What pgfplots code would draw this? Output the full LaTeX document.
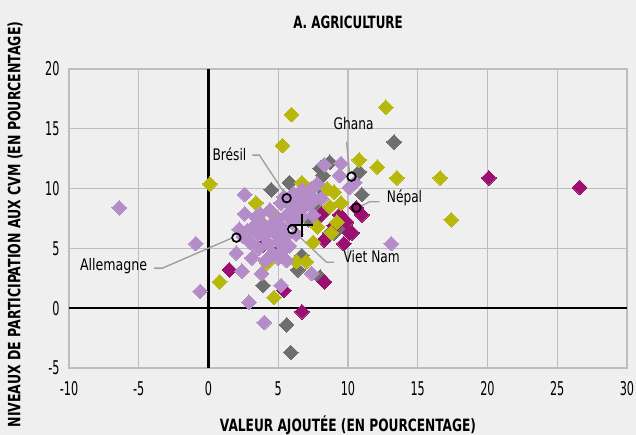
\documentclass[border=0pt]{standalone}
\usepackage{pgfplots}
\pgfplotsset{compat=1.18}
\usepackage{fontspec}
\setmainfont{DejaVu Sans Condensed}
\definecolor{bg}{HTML}{EFEFEF}
\definecolor{gridc}{HTML}{BDBDBD}
\definecolor{cgray}{HTML}{6E6E6E}
\definecolor{colive}{HTML}{B8B80C}
\definecolor{cmag}{HTML}{9A0F70}
\definecolor{cpur}{HTML}{B48CC8}
\definecolor{callout}{HTML}{9C9C9C}
\newcommand{\tk}[1]{\scalebox{0.66}[1]{#1}}
\begin{document}
\begin{tikzpicture}
\path[fill=bg] (0,0) rectangle (636bp,435bp);
\useasboundingbox (0,0) rectangle (636bp,435bp);
\begin{axis}[
  scale only axis, width=558bp, height=299bp,
  at={(69bp,67bp)}, anchor=south west,
  xmin=-10, xmax=30, ymin=-5, ymax=20,
  xtick={-10,-5,...,30}, ytick={-5,0,...,20},
  xticklabels={\tk{-10},\tk{-5},\tk{0},\tk{5},\tk{10},\tk{15},\tk{20},\tk{25},\tk{30}},
  yticklabels={\tk{-5},\tk{0},\tk{5},\tk{10},\tk{15},\tk{20}},
  every tick label/.style={font=\fontsize{19}{19}\selectfont},
  grid=major, major grid style={color=gridc, line width=1.2bp},
  axis line style={color=gridc, line width=1.2bp},
  major tick length=0pt,
  xticklabel style={yshift=-10bp},
  yticklabel style={xshift=-6bp},
  axis background/.style={fill=bg},
  clip=false,
  dia/.style={only marks, mark=square*, mark size=5.2bp, color=#1, mark options={rotate=45, solid, fill=#1, draw=#1, line width=0pt}},
]
\draw[black, line width=2.2bp] (axis cs:0,-5) -- (axis cs:0,20);
\draw[black, line width=2.2bp] (axis cs:-10,0) -- (axis cs:30,0);
% gray
\addplot[dia=cgray] coordinates {
(13.3,13.9) (5.8,10.5) (4.5,9.9) (8.7,12.2) (10.8,11.4) (11.0,9.5) (8.0,11.7) (8.1,10.0)
(8.2,7.9) (8.7,6.3) (9.4,6.8) (8.2,11.1) (3.9,1.9) (5.6,-1.4) (5.9,-3.7) (6.4,3.2)
(6.7,4.4) (8.0,2.6) (9.0,6.3) (7.6,8.6) (7.2,7.4) (7.8,7.5)
};
% magenta
\addplot[dia=cmag] coordinates {
(20.1,10.9) (26.6,10.1) (11.0,7.8) (9.9,7.2) (10.1,6.3) (9.7,5.4) (8.3,5.7) (10.6,8.4)
(1.5,3.2) (8.3,2.2) (6.7,-0.3) (5.4,1.5) (10.3,6.3) (9.4,7.8) (9.0,6.9) (3.9,5.3)
(4.9,4.7) (8.1,7.9)
};
% olive
\addplot[dia=colive] coordinates {
(0.1,10.4) (5.95,16.2) (12.7,16.8) (5.3,13.6) (10.8,12.4) (12.1,11.8) (13.5,10.9) (16.6,10.9)
(17.4,7.4) (0.8,2.2) (4.7,0.9) (3.4,8.8) (6.7,10.5) (8.5,10.0) (9.0,9.7) (9.5,8.8)
(4.6,7.9) (8.7,8.5) (9.2,7.2) (7.8,6.8) (6.3,8.5) (4.2,3.8) (7.0,3.9) (6.3,3.9)
(7.5,5.5) (8.8,6.3) (6.5,7.5)
};
% light purple
\addplot[dia=cpur] coordinates {
(-6.4,8.4) (-0.9,5.4) (-0.6,1.4) (2.0,4.6) (2.4,3.1) (3.8,2.9) (2.9,0.5) (4.0,-1.2)
(5.2,1.9) (7.4,2.9) (13.1,5.4) (2.6,9.5) (8.3,12.0) (9.5,12.1) (2.6,7.9) (3.7,7.9)
(10.1,10.1) (9.4,11.1) (10.5,10.5) (7.5,7.8)
(2.5,6.0) (2.8,6.5) (3.0,5.5) (3.2,6.8) (3.5,6.2) (3.6,5.0) (3.8,7.2) (4.0,6.0)
(4.2,6.6) (4.3,5.4) (4.5,7.0) (4.6,4.6) (4.8,6.2) (5.0,7.5) (5.0,5.6) (5.2,6.8)
(5.3,4.8) (5.5,6.0) (5.6,7.8) (5.8,5.2) (5.9,8.6) (6.0,7.2) (6.2,8.0) (6.3,6.2)
(6.5,9.0) (6.6,7.6) (6.8,8.4) (7.0,9.5) (7.2,8.8) (7.4,10.0) (7.6,9.2) (7.8,10.4)
(3.1,4.2) (4.1,4.0) (5.0,4.2) (5.6,4.0) (2.2,6.6) (3.4,7.6) (4.4,8.2) (5.2,8.8)
(6.1,9.6) (5.4,9.3) (6.7,9.9) (7.5,9.0) (8.1,9.2)
};
% callouts
\draw[callout, line width=1.3bp] (axis cs:3.15,12.8) -- (axis cs:3.65,12.8) -- (axis cs:5.45,9.6);
\draw[callout, line width=1.3bp] (axis cs:9.9,13.9) -- (axis cs:10.1,11.4);
\draw[callout, line width=1.3bp] (axis cs:12.25,8.9) -- (axis cs:11.55,8.9) -- (axis cs:10.8,8.45);
\draw[callout, line width=1.3bp] (axis cs:9.0,3.85) -- (axis cs:8.45,3.85) -- (axis cs:6.5,6.0);
\draw[callout, line width=1.3bp] (axis cs:-3.9,3.35) -- (axis cs:-3.3,3.35) -- (axis cs:1.65,5.85);
% highlighted countries
\addplot[only marks, mark=o, mark size=4.3bp, mark options={black, solid, line width=1.7bp}] coordinates {
(5.6,9.2) (10.25,11.0) (10.6,8.4) (6.0,6.6) (2.0,5.9)
};
\addplot[only marks, mark=+, mark size=11.5bp, mark options={black, solid, line width=2bp}] coordinates {(6.7,6.95)};
\tikzset{lab/.style={font=\fontsize{16}{16}\selectfont}}
\node[lab] at (axis cs:1.5,12.9) {\scalebox{0.85}[1]{Brésil}};
\node[lab] at (axis cs:10.4,15.4) {\scalebox{0.85}[1]{Ghana}};
\node[lab] at (axis cs:14.05,9.2) {\scalebox{0.85}[1]{Népal}};
\node[lab] at (axis cs:11.7,4.3) {\scalebox{0.85}[1]{Viet Nam}};
\node[lab] at (axis cs:-6.8,3.5) {\scalebox{0.88}[1]{Allemagne}};
% titles
\node[font=\bfseries\fontsize{17}{17}\selectfont] at (rel axis cs:0.5,1) [yshift=47bp] {\scalebox{0.78}[1]{A. AGRICULTURE}};
\node[font=\bfseries\fontsize{17}{17}\selectfont] at (rel axis cs:0.5,0) [yshift=-57bp] {\scalebox{0.8}[1]{VALEUR AJOUTÉE (EN POURCENTAGE)}};
\node[font=\bfseries\fontsize{17}{17}\selectfont, rotate=90] at (rel axis cs:-0.0968,0.48) {\scalebox{0.82}[1]{NIVEAUX DE PARTICIPATION AUX CVM (EN POURCENTAGE)}};
\end{axis}
\end{tikzpicture}
\end{document}
